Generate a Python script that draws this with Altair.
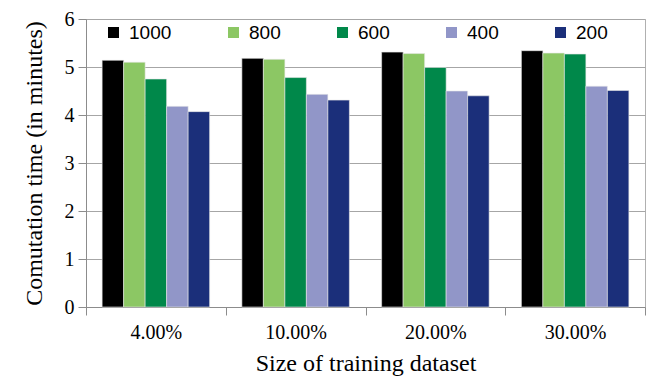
import altair as alt
import pandas as pd

groups = ["4.00%", "10.00%", "20.00%", "30.00%"]
series = ["1000", "800", "600", "400", "200"]
colors = ["#000000", "#8cc764", "#00884a", "#9196c8", "#1b2f7a"]
v1000 = [5.14, 5.18, 5.31, 5.34]
v800 = [5.10, 5.16, 5.28, 5.29]
v600 = [4.75, 4.78, 4.99, 5.27]
v400 = [4.18, 4.43, 4.50, 4.60]
v200 = [4.07, 4.31, 4.40, 4.51]

vals = [v1000, v800, v600, v400, v200]
rows = []
for s, vs in zip(series, vals):
    for g, v in zip(groups, vs):
        rows.append({"group": g, "series": s, "value": v})
df = pd.DataFrame(rows)

serif = "Liberation Serif"

chart = alt.Chart(df).mark_bar(stroke="#e8e8e8", strokeWidth=0.6).encode(
    x=alt.X("group:N", sort=groups,
            scale=alt.Scale(paddingInner=0, paddingOuter=0),
            axis=alt.Axis(title="Size of training dataset", labelAngle=0,
                          tickBand="extent", ticks=True, tickSize=8,
                          tickColor="#8c8c8c", domainColor="#8c8c8c",
                          labelFont=serif, labelFontSize=20, labelColor="#000000",
                          labelPadding=7, titleFont=serif, titleFontSize=24,
                          titleFontWeight="normal", titleColor="#000000",
                          titlePadding=9)),
    xOffset=alt.XOffset("series:N", sort=series,
                        scale=alt.Scale(paddingInner=0, paddingOuter=0.75)),
    y=alt.Y("value:Q", scale=alt.Scale(domain=[0, 6], nice=False),
            axis=alt.Axis(title="Comutation time (in minutes)", values=[0, 1, 2, 3, 4, 5, 6],
                          grid=True, gridColor="#a6a6a6", tickSize=8, tickColor="#8c8c8c",
                          domainColor="#8c8c8c", labelFont=serif, labelFontSize=20,
                          labelColor="#000000", labelPadding=4, titleFont=serif,
                          titleFontSize=24, titleFontWeight="normal", titleColor="#000000",
                          titlePadding=18)),
    color=alt.Color("series:N", sort=series,
                    scale=alt.Scale(domain=series, range=colors),
                    legend=alt.Legend(title=None, orient="none", direction="horizontal",
                                      legendX=18, legendY=4, symbolType="square",
                                      symbolSize=121, symbolStrokeWidth=0,
                                      labelFont="Liberation Sans", labelFontSize=19,
                                      labelColor="#000000", labelFontWeight="normal",
                                      labelOffset=6, columnPadding=52, padding=0,
                                      gridAlign="none")),
).properties(width=559, height=288, padding={"left": 13, "top": 1, "right": 10, "bottom": 5}
).configure_view(stroke="#b0b0b0", strokeWidth=1)

chart.save("out.html", embed_options={"renderer": "svg", "actions": False})
